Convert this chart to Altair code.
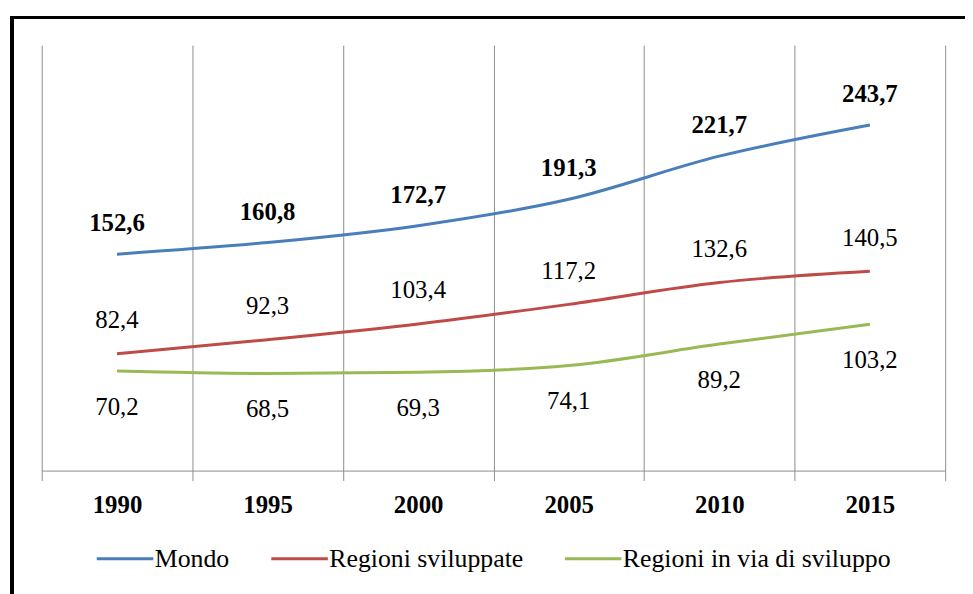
import altair as alt
import pandas as pd

years = ["1990", "1995", "2000", "2005", "2010", "2015"]
mondo = [152.6, 160.8, 172.7, 191.3, 221.7, 243.7]
sviluppate = [82.4, 92.3, 103.4, 117.2, 132.6, 140.5]
in_via = [70.2, 68.5, 69.3, 74.1, 89.2, 103.2]
series_names = ["Mondo", "Regioni sviluppate", "Regioni in via di sviluppo"]
colors = ["#4A7EBB", "#BE4B48", "#98B954"]

rows = []
for name, vals in zip(series_names, [mondo, sviluppate, in_via]):
    for yr, v in zip(years, vals):
        rows.append({"anno": yr, "serie": name, "valore": v,
                     "etichetta": f"{v:.1f}".replace(".", ",")})
df = pd.DataFrame(rows)

W, H = 911, 429
FONT = "'Liberation Serif', 'DejaVu Serif', serif"
GRID = "#8c8c8c"

x_enc = alt.X(
    "anno:N", sort=years,
    scale=alt.Scale(type="band", paddingInner=0, paddingOuter=0),
    axis=alt.Axis(title=None, labelAngle=0, tickBand="extent", grid=True,
                  gridColor=GRID, gridWidth=1, domainColor=GRID, domainWidth=1,
                  tickColor=GRID, tickSize=10, tickWidth=1,
                  labelFont=FONT, labelFontSize=25, labelFontWeight="bold",
                  labelColor="black", labelPadding=12),
)
y_enc = alt.Y("valore:Q", scale=alt.Scale(domain=[0, 300], nice=False), axis=None)

base = alt.Chart(df)

lines = base.mark_line(interpolate="monotone", strokeWidth=3).encode(
    x=x_enc, y=y_enc,
    color=alt.Color(
        "serie:N", sort=series_names,
        scale=alt.Scale(domain=series_names, range=colors),
        legend=alt.Legend(
            title=None, orient="none", legendX=54, legendY=488,
            direction="horizontal", symbolType="stroke", symbolSize=3249,
            symbolStrokeWidth=3, labelFont=FONT, labelFontSize=26,
            labelColor="black", labelLimit=500, labelOffset=0,
            columnPadding=35,
        ),
    ),
)

def labels(name, dy, weight):
    return base.transform_filter(alt.datum.serie == name).mark_text(
        font=FONT, fontSize=25, fontWeight=weight, color="black", dy=dy,
        align="center", baseline="middle",
    ).encode(x=x_enc, y=y_enc, text="etichetta:N")

frame_left = alt.Chart(df).mark_rule(color="black", strokeWidth=2.5).encode(
    x=alt.value(-30), y=alt.value(-29), y2=alt.value(600))
frame_top = alt.Chart(df).mark_rule(color="black", strokeWidth=2.5).encode(
    y=alt.value(-28), x=alt.value(-31), x2=alt.value(1000))

chart = alt.layer(
    lines,
    labels("Mondo", -31, "bold"),
    labels("Regioni sviluppate", -34, "normal"),
    labels("Regioni in via di sviluppo", 36, "normal"),
    frame_left, frame_top,
).properties(
    width=W, height=H,
    autosize=alt.AutoSizeParams(type="none"),
    padding={"left": 34, "top": 35, "right": 20, "bottom": 122},
    background="white",
).configure_view(stroke=None)

chart.save("out.html", embed_options={"renderer": "svg", "actions": False})
